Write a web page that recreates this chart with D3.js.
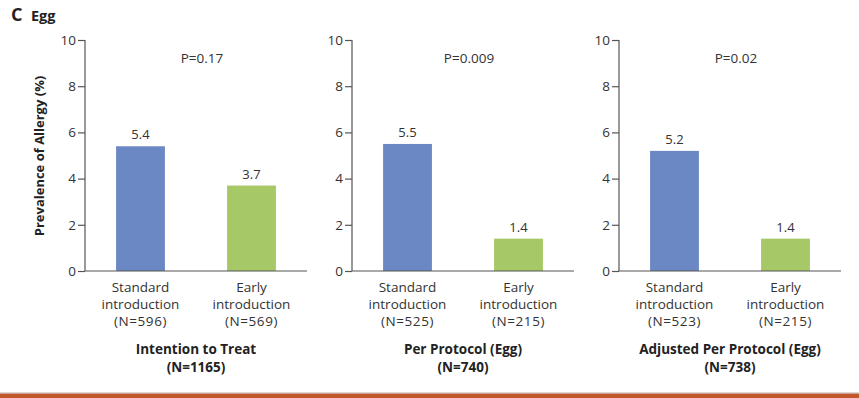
<!DOCTYPE html>
<html>
<head>
<meta charset="utf-8">
<script src="https://cdn.jsdelivr.net/npm/d3@7"></script>
<style>
  html, body { margin: 0; padding: 0; background: #ffffff; }
  svg { display: block; }
  text { font-family: "Open Sans", "DejaVu Sans", sans-serif; }
</style>
</head>
<body>
<svg id="chart" width="859" height="398"></svg>
<script>
// ---- data ----
const panelTitles = ["Intention to Treat", "Per Protocol (Egg)", "Adjusted Per Protocol (Egg)"];
const panelTotals = ["(N=1165)", "(N=740)", "(N=738)"];
const pValues = ["P=0.17", "P=0.009", "P=0.02"];
const groups = ["Standard introduction", "Early introduction"];
const groupLine1 = ["Standard", "Early"];
const groupLine2 = ["introduction", "introduction"];
const groupN = [["(N=596)", "(N=569)"], ["(N=525)", "(N=215)"], ["(N=523)", "(N=215)"]];
const standardValues = [5.4, 5.5, 5.2];
const earlyValues = [3.7, 1.4, 1.4];
const yTicks = [0, 2, 4, 6, 8, 10];
const colors = ["#6b88c4", "#a6c867"];

// ---- layout ----
const svg = d3.select("#chart");
const axisXs = [85, 352, 619];
const panelW = 222;
const yTop = 40, yBottom = 271;
const y = d3.scaleLinear().domain([0, 10]).range([yBottom, yTop]);
const axisColor = "#555";
const textColor = "#333";

// header
svg.append("text").attr("x", 11).attr("y", 21)
  .attr("font-size", 18).attr("font-weight", 700).attr("fill", "#222").text("C");
svg.append("text").attr("x", 31).attr("y", 21)
  .attr("font-size", 14.5).attr("font-weight", 700).attr("fill", "#222").text("Egg");

// y axis title
svg.append("text")
  .attr("transform", `translate(44,156) rotate(-90)`)
  .attr("text-anchor", "middle")
  .attr("font-size", 13).attr("font-weight", 700).attr("fill", "#222")
  .text("Prevalence of Allergy (%)");

panelTitles.forEach((title, i) => {
  const g = svg.append("g").attr("transform", `translate(${axisXs[i]},0)`);
  const x = d3.scaleBand().domain(groups).range([0, panelW])
    .paddingInner(0.56).paddingOuter(0.28);
  const vals = [standardValues[i], earlyValues[i]];

  // bars
  g.selectAll("rect.bar").data(groups).enter().append("rect")
    .attr("class", "bar")
    .attr("x", d => x(d))
    .attr("width", x.bandwidth())
    .attr("y", (d, j) => y(vals[j]))
    .attr("height", (d, j) => y(0) - y(vals[j]))
    .attr("fill", (d, j) => colors[j]);

  // value labels
  g.selectAll("text.val").data(groups).enter().append("text")
    .attr("class", "val")
    .attr("x", d => x(d) + x.bandwidth() / 2)
    .attr("y", (d, j) => y(vals[j]) - 7)
    .attr("text-anchor", "middle")
    .attr("font-size", 13).attr("fill", textColor)
    .text((d, j) => vals[j].toFixed(1));

  // y axis
  const yAxis = d3.axisLeft(y).tickValues(yTicks).tickSize(7).tickPadding(2)
    .tickFormat(d3.format("d"));
  const ya = g.append("g").call(yAxis);
  ya.select(".domain").attr("stroke", axisColor).attr("stroke-width", 1.2)
    .attr("d", `M0,${yTop}V${yBottom}`);
  ya.selectAll(".tick line").attr("stroke", axisColor).attr("stroke-width", 1.2);
  ya.selectAll(".tick text").attr("font-size", 13.5).attr("fill", textColor)
    .attr("font-family", "'Open Sans', sans-serif");

  // x axis line
  g.append("line").attr("x1", 0).attr("x2", panelW)
    .attr("y1", y(0)).attr("y2", y(0))
    .attr("stroke", axisColor).attr("stroke-width", 1.2);

  // category labels
  groups.forEach((grp, j) => {
    const cx = x(grp) + x.bandwidth() / 2;
    const lines = [groupLine1[j], groupLine2[j], groupN[i][j]];
    lines.forEach((t, k) => {
      g.append("text").attr("x", cx).attr("y", 292 + k * 17)
        .attr("text-anchor", "middle").attr("font-size", 13.5).attr("fill", textColor)
        .attr("letter-spacing", k === 2 ? 0.6 : 0)
        .text(t);
    });
  });

  // p value
  g.append("text").attr("x", panelW / 2 + 6).attr("y", 63)
    .attr("text-anchor", "middle").attr("font-size", 13.5).attr("fill", textColor)
    .text(pValues[i]);

  // panel title
  g.append("text").attr("x", panelW / 2).attr("y", 354)
    .attr("text-anchor", "middle").attr("font-size", 13.5).attr("font-weight", 700)
    .attr("fill", "#222").text(title);
  g.append("text").attr("x", panelW / 2).attr("y", 372)
    .attr("text-anchor", "middle").attr("font-size", 13.5).attr("font-weight", 700)
    .attr("fill", "#222").text(panelTotals[i]);
});

// bottom band
svg.append("rect").attr("x", 0).attr("y", 392).attr("width", 859).attr("height", 1.5)
  .attr("fill", "#d8d8d8");
svg.append("rect").attr("x", 0).attr("y", 393.5).attr("width", 859).attr("height", 4.5)
  .attr("fill", "#c1572b");
</script>
</body>
</html>
